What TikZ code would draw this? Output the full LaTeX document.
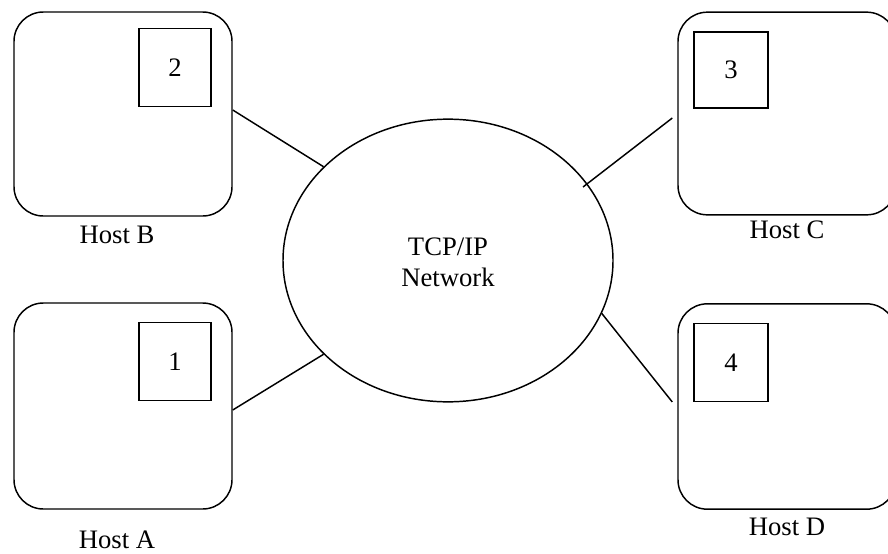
\documentclass[tikz,border=0pt]{standalone}
\usepackage{fontspec}
\setmainfont{Liberation Serif}
\usetikzlibrary{shapes.geometric}
\begin{document}
\begin{tikzpicture}[x=0.75pt,y=-0.75pt,line width=1.1pt,
  every node/.style={font=\fontsize{20}{23}\selectfont},
  host/.style={draw,rectangle,rounded corners=22pt,minimum width=163.5pt,inner sep=0pt},
  proc/.style={draw,rectangle,inner sep=0pt,line width=0.9pt},
  net/.style={draw,ellipse,minimum width=247.5pt,minimum height=212pt,inner sep=0pt,align=center},
  lbl/.style={inner sep=0pt}]
\useasboundingbox (0,0) rectangle (888,553);
\clip (0,0) rectangle (888,553);
% hosts
\node[host,minimum height=153pt] (hostB) at (123,114) {};
\node[host,minimum height=154.5pt] (hostA) at (123,406) {};
\node[host,minimum height=152pt] (hostC) at (787,113.5) {};
\node[host,minimum height=154pt] (hostD) at (787,406.5) {};
% inner boxes
\node[proc,minimum width=54pt,minimum height=59pt] (p2) at (175,67.5) {2};
\node[proc,minimum width=54pt,minimum height=58pt] (p1) at (175,361.5) {1};
\node[proc,minimum width=55.5pt,minimum height=57pt] (p3) at (731,70) {3};
\node[proc,minimum width=55.5pt,minimum height=59pt] (p4) at (731,362.5) {4};
% labels
\node[lbl] (lB) at (117,235) {Host B};
\node[lbl] (lA) at (117,540) {Host A};
\node[lbl] (lC) at (787,230) {Host C};
\node[lbl] (lD) at (787,527) {Host D};
% network
\node[net] (net) at (448,260.5) {};
\node[lbl,align=center] (nettext) at (448,262) {TCP/IP\\Network};
% connectors
\coordinate (cC) at (583,187);
\draw ([yshift=3pt]hostB.east) -- (net.143);
\draw ([yshift=-3pt]hostA.east) -- (net.217);
\draw ([xshift=-3.75pt,yshift=-3.4pt]hostC.west) -- (cC);
\draw (net.-19) -- ([xshift=-3.75pt,yshift=3.4pt]hostD.west);
\end{tikzpicture}
\end{document}
